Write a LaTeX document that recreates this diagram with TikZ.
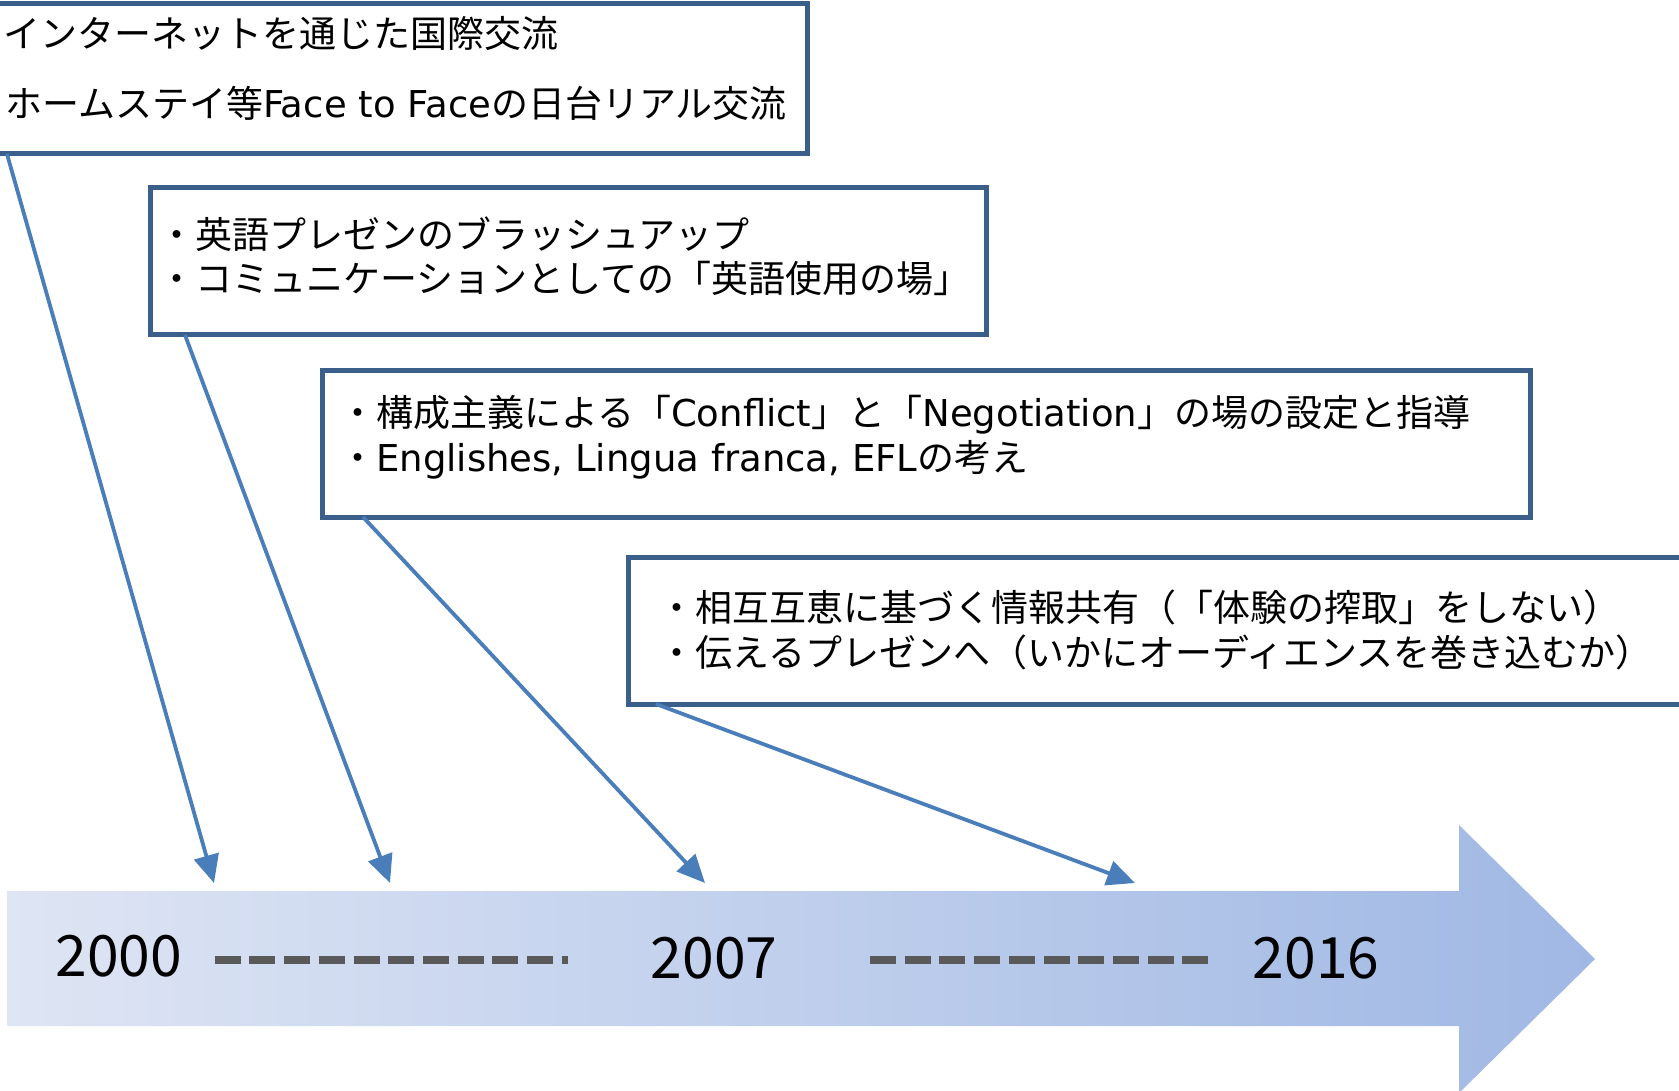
\documentclass[tikz,border=0pt]{standalone}
\usepackage{fontspec}
\setmainfont{Noto Sans CJK JP}
\newfontfamily\lat{DejaVu Sans}
\usetikzlibrary{arrows.meta}
\definecolor{boxblue}{HTML}{3A5F8B}
\definecolor{linkblue}{HTML}{4A7EBB}
\definecolor{dashgray}{HTML}{595959}
\definecolor{tlL}{HTML}{DEE5F4}
\definecolor{tlR}{HTML}{A0B8E4}
\begin{document}
\begin{tikzpicture}[x=1pt,y=-1pt,
  boxshape/.style={draw=boxblue, line width=5pt, fill=white, inner sep=0pt, outer sep=0pt, anchor=north west},
  txt/.style={anchor=base west, inner sep=0pt, font=\fontsize{37}{44}\selectfont},
  link/.style={draw=linkblue, line width=3.8pt, -{Triangle[length=28pt,width=25pt]}},
  yearlbl/.style={anchor=base, inner sep=0pt, font=\fontsize{57}{60}\selectfont},
  dashline/.style={draw=dashgray, line width=8pt, dash pattern=on 26pt off 8.7pt}]
\useasboundingbox (0,0) rectangle (1679,1091);

% timeline arrow
\shade[left color=tlL, right color=tlR]
  (7.5,891) -- (1459,891) -- (1459,825) -- (1595,959) -- (1459,1093) -- (1459,1026) -- (7.5,1026) -- cycle;

\node[yearlbl] (y1) at (119,976) {2000};
\node[yearlbl] (y2) at (714,978) {2007};
\node[yearlbl] (y3) at (1316,978) {2016};
\coordinate (d1a) at (214.7,959.7);
\coordinate (d1b) at (568,959.7);
\coordinate (d2a) at (870,959.7);
\coordinate (d2b) at (1208,959.7);
\draw[dashline] (d1a) -- (d1b);
\draw[dashline] (d2a) -- (d2b);

% boxes
\node[boxshape, minimum width=812pt, minimum height=150pt] (b1) at (-5,4) {};
\node[boxshape, minimum width=836pt, minimum height=147pt] (b2) at (150,188) {};
\node[boxshape, minimum width=1208pt, minimum height=147pt] (b3) at (322,370) {};
\node[boxshape, minimum width=1080pt, minimum height=147pt] (b4) at (628,557) {};

% texts
\node[txt] (t1a) at (3,48) {インターネットを通じた国際交流};
\node[txt] (t1b) at (5,118) {ホームステイ等{\lat Face to Face}の日台リアル交流};
\node[txt] (t2a) at (158,249) {・英語プレゼンのブラッシュアップ};
\node[txt] (t2b) at (158,293) {・コミュニケーションとしての「英語使用の場」};
\node[txt] (t3a) at (339,426) {・構成主義による「{\lat Conflict}」と「{\lat Negotiation}」の場の設定と指導};
\node[txt] (t3b) at (339,471) {・{\lat Englishes, Lingua franca, EFL}の考え};
\node[txt] (t4a) at (658,621) {・相互互恵に基づく情報共有（「体験の搾取」をしない）};
\node[txt] (t4b) at (658,666) {・伝えるプレゼンへ（いかにオーディエンスを巻き込むか）};

% connectors
\coordinate (s1) at (7,154);
\coordinate (s2) at (185,335);
\coordinate (s3) at (363,517);
\coordinate (s4) at (656,704);
\coordinate (e1) at (214,883);
\coordinate (e2) at (390,883);
\coordinate (e3) at (705,883);
\coordinate (e4) at (1135,883);
\draw[link] (s1) -- (e1);
\draw[link] (s2) -- (e2);
\draw[link] (s3) -- (e3);
\draw[link] (s4) -- (e4);
\end{tikzpicture}
\end{document}
